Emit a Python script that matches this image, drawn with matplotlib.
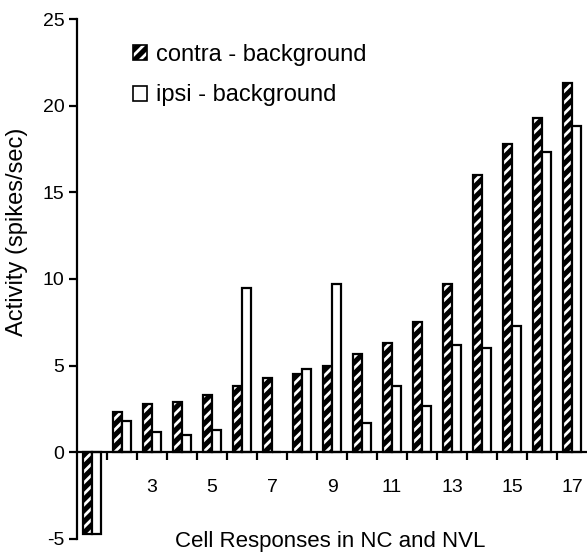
import matplotlib
matplotlib.use("Agg")

import numpy as np
import matplotlib.pyplot as plt
from matplotlib.patches import Patch

# cell index 1..17
cells = np.arange(1, 18)
contra = [-4.7, 2.3, 2.8, 2.9, 3.3, 3.8, 4.3, 4.5, 5.0, 5.7, 6.3, 7.5, 9.7, 16.0, 17.8, 19.3, 21.3]
ipsi = [-4.7, 1.8, 1.2, 1.0, 1.3, 9.5, 0.0, 4.8, 9.7, 1.7, 3.8, 2.7, 6.2, 6.0, 7.3, 17.3, 18.8]
tick_labels = [3, 5, 7, 9, 11, 13, 15, 17]

plt.rcParams["font.family"] = ["Liberation Sans", "DejaVu Sans"]
plt.rcParams["hatch.linewidth"] = 2.0
plt.rcParams["axes.unicode_minus"] = False

fig = plt.figure(figsize=(5.87, 5.54), dpi=100)
ax = fig.add_axes([0.1312, 0.0271, 0.8688, 0.9386])

w = 0.3
# contra: black bars with white diagonal stripes
ax.bar(cells - w / 2, contra, width=w, color="black", edgecolor="white",
       hatch="///", linewidth=0)
ax.bar(cells - w / 2, contra, width=w, fill=False, edgecolor="black", linewidth=1.6)
# ipsi: open bars
ax.bar(cells + w / 2, ipsi, width=w, color="white", edgecolor="black", linewidth=1.6)

ax.set_xlim(0.5, 17.5)
ax.set_ylim(-5, 25)

for s in ["top", "right"]:
    ax.spines[s].set_visible(False)
ax.spines["bottom"].set_position(("data", 0))
ax.spines["bottom"].set_linewidth(1.6)
ax.spines["left"].set_linewidth(1.6)

ax.set_yticks([-5, 0, 5, 10, 15, 20, 25])
ax.tick_params(axis="y", direction="out", length=6, width=1.6, labelsize=14, pad=3)

ax.set_xticks(tick_labels)
ax.set_xticklabels([str(t) for t in tick_labels])
ax.set_xticks(np.arange(1.5, 17.5, 1), minor=True)
ax.tick_params(axis="x", which="major", length=0, labelsize=14, pad=19)
ax.tick_params(axis="x", which="minor", direction="out", length=6, width=1.6)

fig.text(17 / 587, 1 - 232 / 554, "Activity (spikes/sec)", rotation=90,
         ha="center", va="center", fontsize=17)
fig.text(0.562, 0.013, "Cell Responses in NC and NVL", ha="center", va="baseline", fontsize=16)

h1 = (Patch(facecolor="black", edgecolor="white", hatch="///", linewidth=0),
      Patch(fill=False, edgecolor="black", linewidth=1.2))
h2 = Patch(facecolor="white", edgecolor="black", linewidth=1.2)
leg = ax.legend([h1, h2], ["contra - background", "ipsi - background"],
                loc="upper left", bbox_to_anchor=(0.11, 0.952), frameon=False,
                fontsize=17, handlelength=0.6, handleheight=0.6,
                handletextpad=0.35, labelspacing=0.78, borderpad=0, borderaxespad=0)

fig.savefig("out.png", dpi=100)
